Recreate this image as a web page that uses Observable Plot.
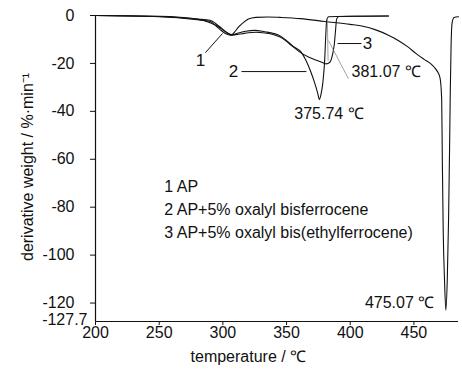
<!DOCTYPE html>
<html>
<head>
<meta charset="utf-8">
<script src="https://cdn.jsdelivr.net/npm/d3@7"></script>
<script src="https://cdn.jsdelivr.net/npm/@observablehq/plot@0.6"></script>
<style>
  html, body { margin: 0; padding: 0; background: #fff; }
  svg { display: block; }
</style>
</head>
<body>
<div id="chart"></div>
<script>
// ---- data (temperature °C, derivative weight %/min) ----
const apT =   [200, 250, 280, 290, 296, 300, 304, 307, 309, 312, 316, 320, 326, 335, 345, 361, 380, 400, 410, 420, 430, 438, 445, 452, 458, 464, 468, 470.5, 471.8, 472.3, 473, 474, 475.07, 476.2, 477.2, 478, 478.6, 479.2, 480, 481.5, 485];
const apV =   [0, -0.3, -1.5, -3, -4.5, -6, -7.5, -8, -7, -5, -3, -1.5, -0.8, -0.6, -0.8, -1.3, -2.5, -3.7, -4.5, -6, -8.2, -10.5, -13, -16, -18.3, -20.5, -23, -26, -35, -60, -90, -110, -123, -110, -85, -55, -30, -12, -3, -0.8, -0.5];

const bfT =   [200, 250, 280, 290, 297, 302, 306, 309, 313, 318, 325, 333, 340, 345, 350, 355, 361, 365, 369, 372, 374.5, 375.74, 377, 378.5, 380, 380.8, 381.5, 383, 400, 430];
const bfV =   [0, -0.5, -1.8, -2.5, -5.5, -7.5, -8.2, -7.8, -7.2, -6.6, -6.2, -6.8, -7.5, -8.5, -10.5, -12.8, -15, -18.5, -23.5, -28, -32.5, -35, -33, -28, -18, -8, -2, -0.5, -0.3, -0.2];

const efT =   [200, 250, 280, 290, 297, 303, 307, 310, 315, 320, 326, 333, 340, 345, 350, 355, 361, 368, 374, 379, 381.07, 384, 386, 387.5, 388.5, 389.3, 391, 410, 430];
const efV =   [0, -0.4, -1.5, -2, -4.5, -7, -8.2, -8, -7.6, -7.2, -7, -7.3, -8, -9, -10.8, -13, -15.5, -17.5, -18.8, -19.8, -20.2, -19.5, -16.5, -12, -6, -1.5, -0.4, -0.3, -0.2];

const xTicks = [200, 250, 300, 350, 400, 450];
const yTicks = [0, -20, -40, -60, -80, -100, -120];
const yMin = -127.7;
const xLabel = "temperature / ℃";
const yLabel = "derivative weight / %·min⁻¹";

const legendLines = ["1 AP", "2 AP+5% oxalyl bisferrocene", "3 AP+5% oxalyl bis(ethylferrocene)"];
const legendT = [254, 254, 254];
const legendV = [-71.5, -81.2, -90.8];

// curve labels and peak annotations
const labTexts  = ["1", "2", "3"];
const labT      = [282.4, 308.3, 413.5];
const labV      = [-18.8, -23.4, -11.7];
const peakTexts = ["381.07 ℃", "375.74 ℃", "475.07 ℃"];
const peakT     = [401, 383.3, 466];
const peakV     = [-23.4, -41, -120];
const peakAnchor = ["start", "middle", "end"];

// leader lines [T1, V1, T2, V2]
const leaders = [
  [286.3, -15.5, 299.7, -7.5],
  [314.6, -23.4, 365.6, -23.4],
  [390.0, -11.7, 408.8, -11.7]
];
const thinLines = [
  [382.9, -10.5, 398.6, -26.4],
  [382.0, -0.8, 382.6, -18.8]
];

const toRows = (T, V) => T.map((t, i) => ({t, v: V[i]}));
const curves = [toRows(apT, apV), toRows(bfT, bfV), toRows(efT, efV)];

const legendRows = legendLines.map((s, i) => ({s, t: legendT[i], v: legendV[i]}));
const labRows = labTexts.map((s, i) => ({s, t: labT[i], v: labV[i]}));
const peakRows = peakTexts.map((s, i) => ({s, t: peakT[i], v: peakV[i], a: peakAnchor[i]}));
const leaderRows = leaders.map(d => ({x1: d[0], y1: d[1], x2: d[2], y2: d[3]}));
const thinRows = thinLines.map(d => ({x1: d[0], y1: d[1], x2: d[2], y2: d[3]}));

const peakMark = a => Plot.text(peakRows.filter(d => d.a === a), {x: "t", y: "v", text: "s", textAnchor: a, fontSize: 16});

const chart = Plot.plot({
  width: 462,
  height: 375,
  marginLeft: 95,
  marginRight: 4,
  marginTop: 15,
  marginBottom: 54,
  style: {fontFamily: "'Liberation Sans', Arial, sans-serif", fontSize: "16px", color: "#111", background: "#fff"},
  x: {domain: [200, 485]},
  y: {domain: [yMin, 0]},
  marks: [
    Plot.axisX({ticks: xTicks, tickSize: 4, tickPadding: 1, label: null, tickFormat: d => String(d), fontSize: 16}),
    Plot.axisY({ticks: yTicks, tickSize: 5, tickPadding: 16, tickFormat: d => String(d), fontSize: 16, label: null}),
    Plot.ruleX([200], {stroke: "#111", strokeWidth: 1.2}),
    Plot.ruleY([yMin], {stroke: "#111", strokeWidth: 1.2}),
    Plot.text([yMin], {x: 200, y: d => d, text: d => String(d), textAnchor: "end", dx: -8, dy: -2, fontSize: 16}),
    Plot.text([xLabel], {x: 320, frameAnchor: "bottom", dy: 40, text: d => d, fontSize: 16}),
    Plot.text([yLabel], {y: -63.2, frameAnchor: "left", textAnchor: "middle", dx: -68, rotate: -90, text: d => d, fontSize: 16}),
    ...curves.map(c => Plot.line(c, {x: "t", y: "v", stroke: "#111", strokeWidth: 1.1, curve: "monotone-x"})),
    Plot.link(thinRows, {x1: "x1", y1: "y1", x2: "x2", y2: "y2", stroke: "#777", strokeWidth: 0.7}),
    Plot.link(leaderRows, {x1: "x1", y1: "y1", x2: "x2", y2: "y2", stroke: "#111", strokeWidth: 1}),
    Plot.text(labRows, {x: "t", y: "v", text: "s", fontSize: 17}),
    peakMark("start"), peakMark("middle"), peakMark("end"),
    Plot.text(legendRows, {x: "t", y: "v", text: "s", textAnchor: "start", fontSize: 16})
  ]
});
document.getElementById("chart").appendChild(chart);
</script>
</body>
</html>
